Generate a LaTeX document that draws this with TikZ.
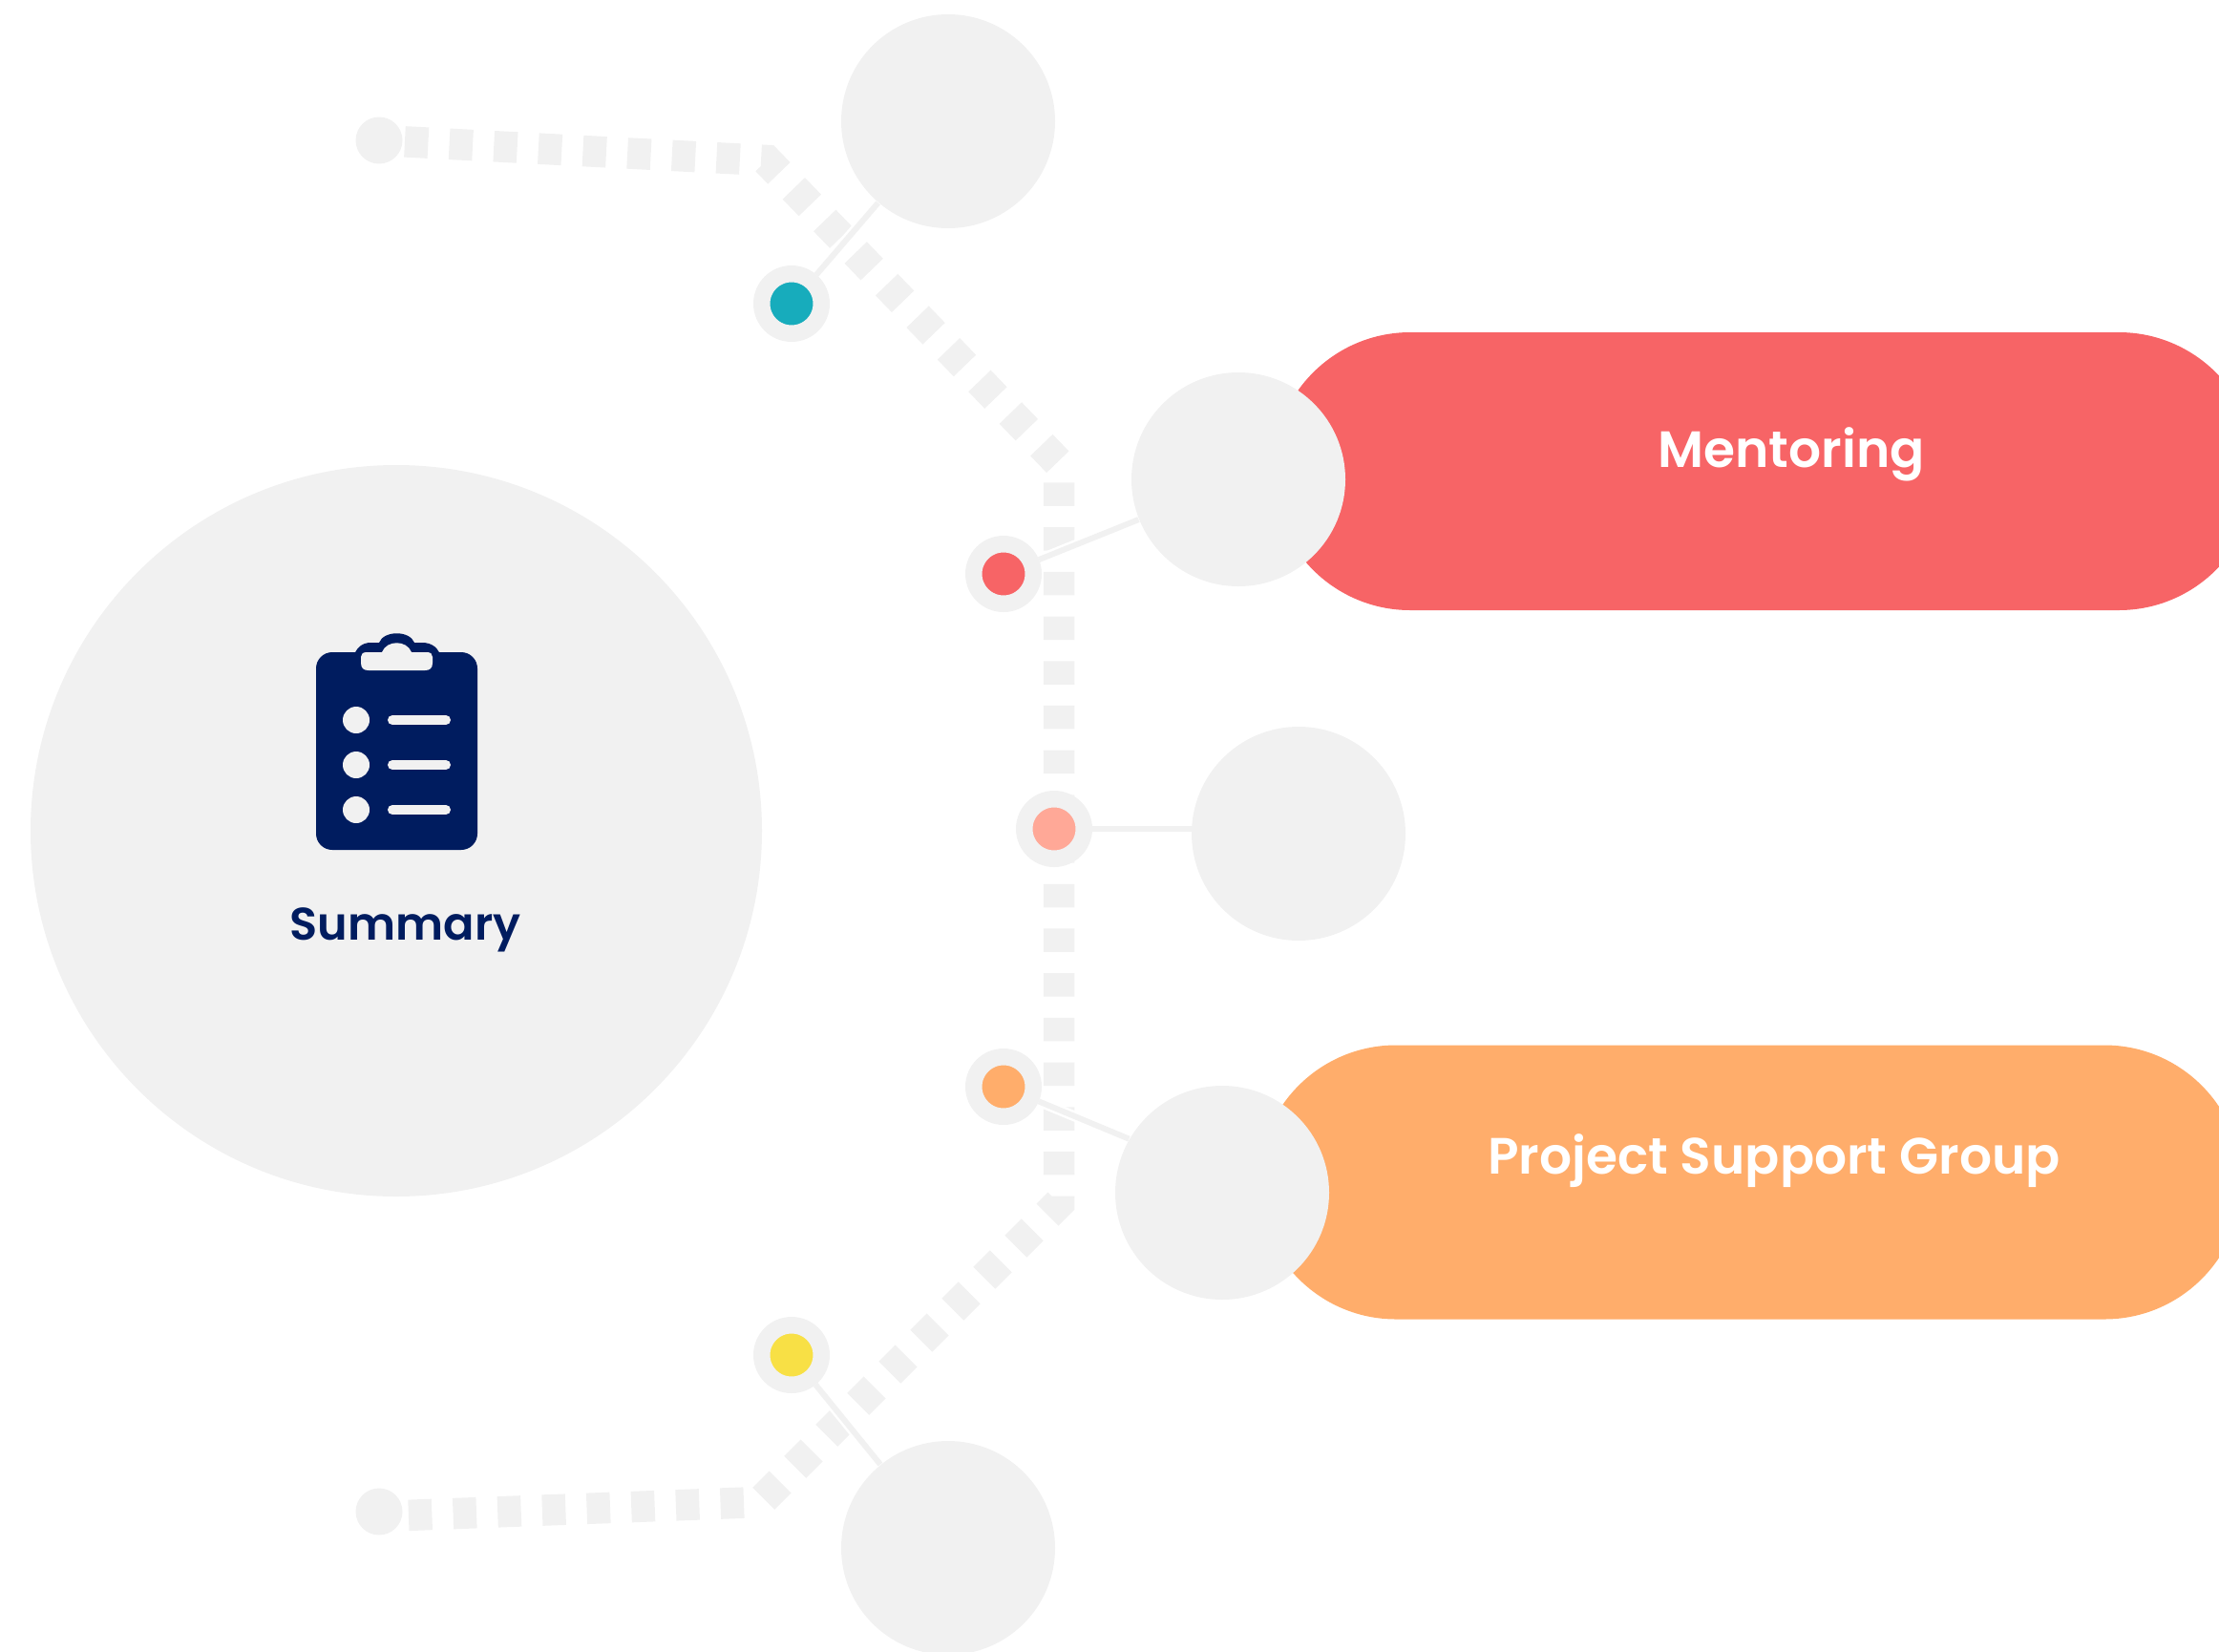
\documentclass[tikz,border=0pt]{standalone}
\usepackage{fontspec}
\setmainfont{Poppins}
\newfontfamily\semibold{Poppins SemiBold}
\usepackage{tikz}
\usetikzlibrary{backgrounds}
\definecolor{Bubble}{HTML}{F1F1F1}
\definecolor{Navy}{HTML}{001C5F}
\definecolor{Coral}{HTML}{F76466}
\definecolor{Apricot}{HTML}{FFAD6B}
\definecolor{Salmon}{HTML}{FFA897}
\definecolor{Teal}{HTML}{17ACBC}
\definecolor{Lemon}{HTML}{F8E045}

\begin{document}
\begin{tikzpicture}
	\tikzset{
		BIG/.style={circle,fill=Bubble,inner sep=0,minimum size=#1},
		C/.style={BIG=2.24cm},
		M/.style={circle,draw=Bubble,line width=0.175cm,fill=#1,inner sep=0,minimum size=0.625cm},
		P/.style={rounded corners=1.44cm,fill=#1,inner sep=0,minimum width=10.3cm},
		T/.style={anchor=base,white,font=\fontsize{15.2}{20}\semibold},
		LINK/.style={white,line width=0.11cm},
		THIN/.style={Bubble,line width=0.06cm},
	}
	\useasboundingbox (0,0) rectangle (23.24,-17.29);

	% big circle with the clipboard
	\node[BIG=7.66cm] (summary) at (4.15,-8.70) {};
	\fill[Navy,rounded corners=0.17cm] (3.31,-6.83) rectangle (5.00,-8.90);
	\fill[Navy] (3.70,-6.90) .. controls (3.72,-6.78) and (3.80,-6.73) .. (3.88,-6.73)
		-- (3.97,-6.73) .. controls (4.02,-6.60) and (4.29,-6.60) .. (4.34,-6.73)
		-- (4.42,-6.73) .. controls (4.52,-6.73) and (4.60,-6.78) .. (4.62,-6.90) -- cycle;
	\fill[Bubble] (3.84,-6.83) -- (4.00,-6.83) .. controls (4.05,-6.70) and (4.26,-6.70) .. (4.31,-6.83) -- (4.47,-6.83)
		.. controls (4.51,-6.83) and (4.53,-6.85) .. (4.53,-6.88) -- (4.53,-6.94)
		.. controls (4.53,-7.00) and (4.50,-7.02) .. (4.45,-7.02) -- (3.86,-7.02)
		.. controls (3.81,-7.02) and (3.78,-7.00) .. (3.78,-6.94) -- (3.78,-6.88)
		.. controls (3.78,-6.85) and (3.80,-6.83) .. (3.84,-6.83) -- cycle;
	\foreach \y in {7.54,8.01,8.48} {
		\fill[Bubble] (3.73,-\y) circle (0.14cm);
		\draw[Bubble,line width=0.1cm,line cap=round] (4.11,-\y) -- (4.67,-\y);
	}
	\node[T,Navy,font=\fontsize{13.6}{18}\semibold] (summarytext) at (4.245,-9.84) {Summary};

	% pills
	\node[P=Coral,minimum height=2.91cm] (mentoring) at (18.48,-4.935) {};
	\node[P=Apricot,minimum height=2.87cm] (psg) at (18.33,-12.38) {};
	\node[T] (mentoringtext) at (18.76,-4.89) {Mentoring};
	\node[T] (psgtext) at (18.58,-12.29) {Project Support Group};

	% bubbles
	\node[C] (c1) at (9.93,-1.27) {};
	\node[C] (c2) at (12.97,-5.02) {};
	\node[C] (c3) at (13.60,-8.73) {};
	\node[C] (c4) at (12.80,-12.49) {};
	\node[C] (c5) at (9.93,-16.21) {};

	% markers
	\node[M=Teal] (m1) at (8.29,-3.18) {};
	\node[M=Coral] (m2) at (10.51,-6.01) {};
	\node[M=Salmon] (m3) at (11.04,-8.68) {};
	\node[M=Apricot] (m4) at (10.51,-11.38) {};
	\node[M=Lemon] (m5) at (8.29,-14.19) {};

	% end dots of the dashed path
	\node[BIG=0.49cm] (d1) at (3.97,-1.47) {};
	\node[BIG=0.49cm] (d2) at (3.97,-15.83) {};
	\coordinate (d2end) at (3.97,-15.88);

	\begin{scope}[on background layer]
		\draw[Bubble,line width=0.325cm,dash pattern=on 0.245cm off 0.222cm,dash phase=0.197cm]
		(d1.center) -- (8.03,-1.68) -- (11.09,-4.85) -- (11.09,-12.60) -- (7.96,-15.73) -- (d2end);
		\foreach \a/\b in {m1/c1,m2/c2,m4/c4.150,m5/c5} {
			\draw[LINK] (\a) -- (\b);
			\draw[THIN] (\a) -- (\b);
		}
		\draw[LINK] (m3) -- (m3 -| c3);
		\draw[THIN] (m3) -- (m3 -| c3);
	\end{scope}
\end{tikzpicture}
\end{document}
